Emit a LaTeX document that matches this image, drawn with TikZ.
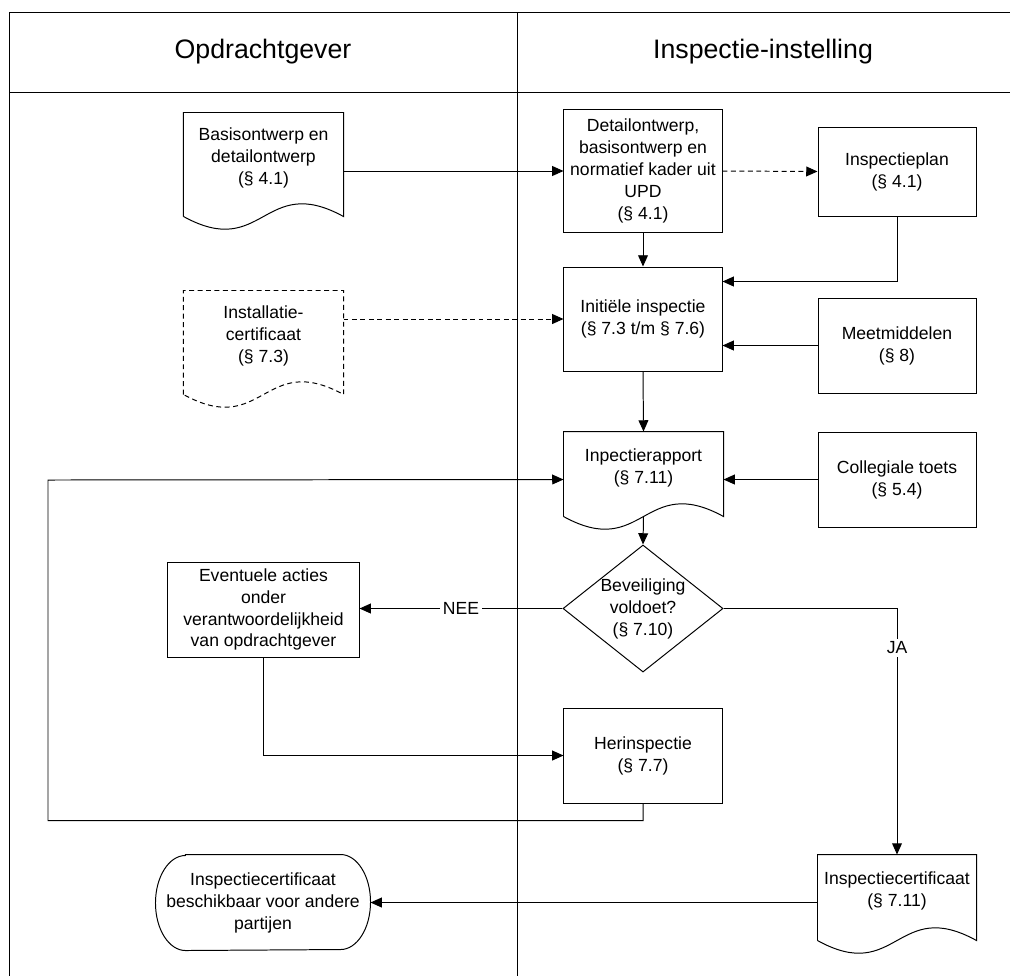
\documentclass[tikz,border=0pt]{standalone}
\usepackage{fontspec}
\setmainfont{Liberation Sans}
\usepackage{tikz}
\usetikzlibrary{arrows.meta,positioning,calc,shapes.geometric}
\tikzset{
    box/.style={draw,rectangle,align=center,inner sep=0pt,minimum width=3.95cm},
    docbox/.style={rectangle,align=center,inner sep=0pt,minimum width=3.975cm},
    arr/.style={-{Triangle[length=8pt,width=7pt]}},
    dashline/.style={dash pattern=on 3.5pt off 2.5pt},
    dasharr/.style={arr,dashline},
    answer/.style={fill=white,inner sep=2pt},
    header/.style={font=\fontsize{19}{23}\selectfont},
}
\tikzstyle{every node}=[font=\fontsize{12.5}{15.6}\selectfont]
% document shape: flat top, wavy bottom below the node
\newcommand{\docoutline}[2][]{%
    \draw[#1] ($(#2.south west)+(0,13)$) -- (#2.north west) -- (#2.north east) -- ($(#2.south east)+(0,13)$)
        .. controls ($(#2.south)+(0,-31)$) and ($(#2.south)+(0,57)$) .. ($(#2.south west)+(0,13)$);
    \coordinate (#2-wave) at ($(#2.south)+(0,13)$);
}
\begin{document}
\begin{tikzpicture}[x=0.025cm,y=-0.025cm,line width=.7pt]
    \useasboundingbox (0,0) rectangle (1010,976);
    % swimlanes
    \draw (1010,12) -- (9,12) -- (9,976);
    \draw (9,92) -- (1010,92);
    \draw (517,12) -- (517,976);
    \node[header] (opdr) at (263,52) {Opdrachtgever};
    \node[header] (insp) at (763,52) {Inspectie-instelling};

    % opdrachtgever
    \node[docbox,minimum height=2.25cm] (basis) at (263.5,158) {Basisontwerp en\\detailontwerp\\(§ 4.1)};
    \docoutline{basis}
    \node[docbox,minimum height=2.25cm] (install) at (263.5,336) {Installatie-\\certificaat\\(§ 7.3)};
    \docoutline[dashline]{install}
    \node[box,minimum width=4.775cm,minimum height=2.375cm] (event) at (263.5,609.5) {Eventuele acties\\onder\\verantwoordelijkheid\\van opdrachtgever};
    \node[minimum width=5.35cm,minimum height=2.375cm,align=center,inner sep=0pt] (termi) at (263,902.5) {Inspectiecertificaat\\beschikbaar voor andere\\partijen};
    \draw ([xshift=0.75cm]termi.north west) -- ([xshift=-0.75cm]termi.north east)
        arc[start angle=90,end angle=-90,x radius=0.75cm,y radius=1.1875cm]
        -- ([xshift=0.75cm]termi.south west)
        arc[start angle=270,end angle=90,x radius=0.75cm,y radius=1.1875cm] -- cycle;

    % inspectie-instelling
    \node[box,minimum height=3.05cm] (detail) at (643,171) {Detailontwerp,\\basisontwerp en\\normatief kader uit\\UPD\\(§ 4.1)};
    \node[box,minimum height=2.225cm] (plan) at (897,171.5) {Inspectieplan\\(§ 4.1)};
    \node[box,minimum height=2.6cm] (init) at (643,319) {Initiële inspectie\\(§ 7.3 t/m § 7.6)};
    \node[box,minimum height=2.375cm] (meet) at (897,345.5) {Meetmiddelen\\(§ 8)};
    \node[docbox,minimum height=1.775cm] (rapport) at (643.5,467.5) {Inpectierapport\\(§ 7.11)};
    \docoutline{rapport}
    \node[box,minimum height=2.375cm] (coll) at (897,479.5) {Collegiale toets\\(§ 5.4)};
    \node[diamond,draw,aspect=1.26,inner sep=0pt,minimum width=4cm,minimum height=3.175cm] (bev) at (643,608.5) {};
    \node[align=center] (bevtext) at (bev) {Beveiliging\\voldoet?\\(§ 7.10)};
    \node[box,minimum height=2.375cm] (herin) at (643,755.5) {Herinspectie\\(§ 7.7)};
    \node[docbox,minimum width=3.95cm,minimum height=1.8cm] (cert) at (897,891) {Inspectiecertificaat\\(§ 7.11)};
    \docoutline{cert}

    % connectors
    \draw[arr] (detail.west -| basis.east) -- (detail.west);
    \draw[dasharr] (detail.east) -- (plan.west);
    \draw[arr] (detail.south) -- (init.north);
    \draw[arr] (plan.south) |- ($(init.north east)+(0,15)$);
    \draw[dasharr] (init.west -| install.east) -- (init.west);
    \draw[arr] (meet.west) -- (meet.west -| init.east);
    \draw[arr] (init.south) -- (rapport.north);
    \draw[arr] (coll.west) -- (coll.west -| rapport.east);
    \draw[arr] (herin.south) -- ++(0,17) -| (48,480) -- (coll.west -| rapport.west);
    \draw[arr] (rapport-wave) -- (bev.north);
    \draw[arr] (bev.west) -- node[answer] {NEE} (bev.west -| event.east);
    \draw[arr] (bev.east) -| node[answer,pos=.58] {JA} (cert.north);
    \draw[arr] (event.south) |- (herin.west);
    \draw[arr] (termi.east -| cert.west) -- (termi.east);
\end{tikzpicture}
\end{document}
